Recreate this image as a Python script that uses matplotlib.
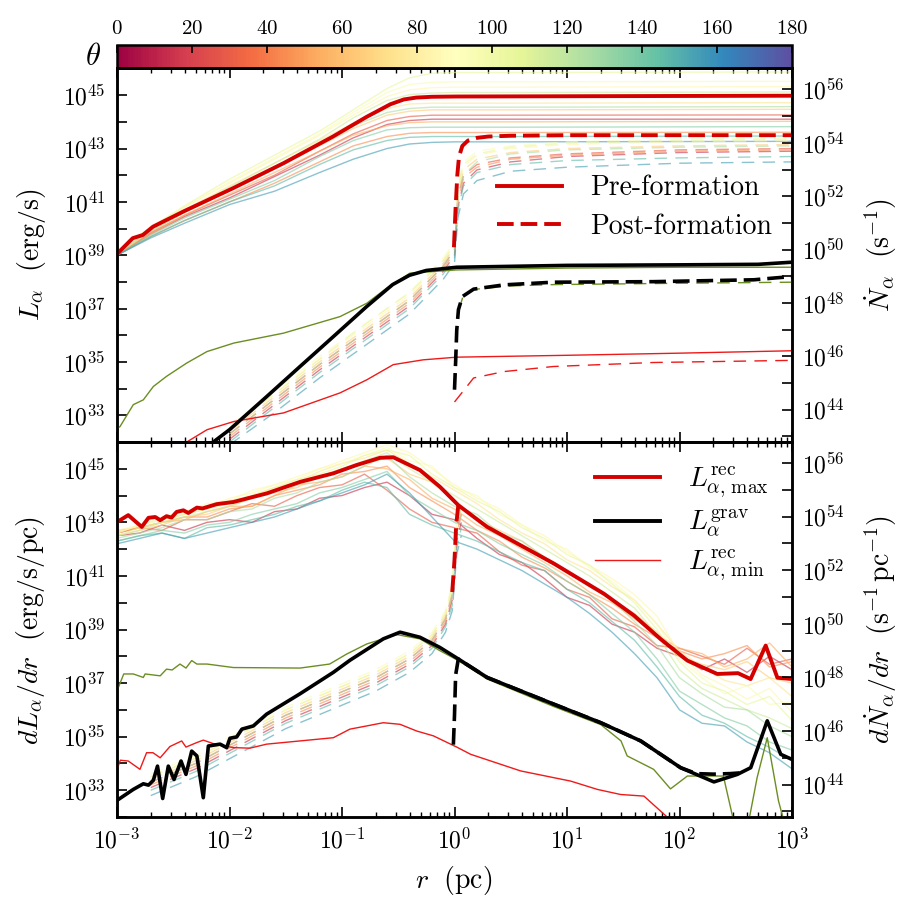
import numpy as np
import matplotlib
matplotlib.use('Agg')
import matplotlib.pyplot as plt
from matplotlib.ticker import FixedLocator, NullFormatter, FuncFormatter
from matplotlib.colors import Normalize
from matplotlib.cm import ScalarMappable
from matplotlib.lines import Line2D

plt.rcParams['font.family'] = ['cmr10', 'DejaVu Serif']
plt.rcParams['mathtext.fontset'] = 'cm'
plt.rcParams['axes.formatter.use_mathtext'] = True
plt.rcParams['axes.unicode_minus'] = False
plt.rcParams['lines.scale_dashes'] = False

E_LYA = 1.634e-11  # erg per Ly-alpha photon (right-hand axes)

# ---------------- data (log10 r [pc], log10 L) ----------------
theta = [15, 30, 45, 55, 65, 75, 85, 95, 105, 115, 125, 135, 145, 155]
theta_post = [15, 30, 45, 65, 85, 95, 105, 125, 145, 155]

# top panel: cumulative luminosity, per angle (pre-formation)
lr_top_ang = [-3.0, -2.7, -2.4, -2.0, -1.6, -1.2, -0.9, -0.6, -0.4, -0.2, 0.0, 0.5, 3.0]
lL_top_ang = [
    [39.0, 39.8, 40.45, 41.15, 41.95, 42.75, 43.4, 43.9, 44.05, 44.1, 44.1, 44.1, 44.1],
    [39.0, 39.85, 40.5, 41.25, 42.0, 42.9, 43.55, 44.05, 44.2, 44.25, 44.25, 44.25, 44.26],
    [39.0, 39.7, 40.3, 41.0, 41.7, 42.5, 43.1, 43.45, 43.57, 43.6, 43.6, 43.6, 43.61],
    [39.05, 39.8, 40.5, 41.3, 42.1, 42.9, 43.5, 43.85, 43.97, 44.0, 44.0, 44.0, 44.02],
    [39.05, 39.9, 40.6, 41.45, 42.25, 43.1, 43.75, 44.25, 44.4, 44.45, 44.45, 44.45, 44.47],
    [39.1, 40.0, 40.7, 41.6, 42.45, 43.3, 43.95, 44.5, 44.67, 44.7, 44.7, 44.7, 44.72],
    [39.1, 40.0, 40.8, 41.7, 42.6, 43.5, 44.25, 44.95, 45.2, 45.28, 45.3, 45.3, 45.32],
    [39.1, 40.05, 40.8, 41.75, 42.65, 43.55, 44.35, 45.1, 45.4, 45.48, 45.5, 45.5, 45.52],
    [39.15, 40.05, 40.85, 41.85, 42.75, 43.65, 44.45, 45.25, 45.65, 45.82, 45.85, 45.85, 45.87],
    [39.1, 39.95, 40.65, 41.55, 42.45, 43.35, 44.15, 44.8, 45.02, 45.08, 45.1, 45.1, 45.12],
    [39.1, 39.9, 40.6, 41.45, 42.3, 43.15, 43.85, 44.35, 44.5, 44.55, 44.55, 44.55, 44.57],
    [39.0, 39.75, 40.4, 41.1, 41.8, 42.7, 43.3, 43.7, 43.78, 43.8, 43.8, 43.8, 43.82],
    [39.0, 39.7, 40.3, 41.0, 41.6, 42.4, 42.95, 43.3, 43.42, 43.45, 43.45, 43.45, 43.47],
    [39.0, 39.65, 40.2, 40.9, 41.4, 42.1, 42.6, 43.0, 43.17, 43.23, 43.25, 43.25, 43.27],
]
# top panel, per angle (post-formation)
lr_top_ang_post = [-2.0, -1.6, -1.2, -0.8, -0.4, -0.1, 0.0, 0.03, 0.08, 0.2, 0.5, 1.0, 2.0, 3.0]
lL_top_ang_post = [
    [32.1, 33.4, 34.7, 35.9, 37.1, 38.4, 39.0, 40.8, 41.7, 42.2, 42.5, 42.7, 42.85, 42.9],
    [32.3, 33.6, 34.9, 36.1, 37.3, 38.6, 39.2, 41.2, 42.0, 42.4, 42.65, 42.8, 42.95, 43.0],
    [32.2, 33.5, 34.8, 36.0, 37.2, 38.5, 39.1, 41.0, 41.9, 42.3, 42.6, 42.75, 42.9, 42.95],
    [32.4, 33.7, 35.0, 36.2, 37.4, 38.7, 39.3, 41.3, 42.2, 42.6, 42.85, 43.0, 43.1, 43.15],
    [32.5, 33.8, 35.1, 36.3, 37.5, 38.8, 39.4, 41.5, 42.3, 42.75, 43.0, 43.15, 43.25, 43.3],
    [32.6, 33.9, 35.2, 36.4, 37.6, 38.9, 39.5, 41.6, 42.5, 42.9, 43.1, 43.25, 43.35, 43.4],
    [32.5, 33.8, 35.1, 36.4, 37.6, 38.8, 39.4, 41.5, 42.4, 42.8, 43.05, 43.2, 43.3, 43.35],
    [32.3, 33.6, 34.9, 36.1, 37.3, 38.6, 39.2, 41.1, 42.0, 42.5, 42.8, 42.95, 43.05, 43.1],
    [32.0, 33.3, 34.6, 35.8, 37.0, 38.3, 38.9, 40.7, 41.6, 42.1, 42.4, 42.55, 42.65, 42.7],
    [31.9, 33.1, 34.4, 35.6, 36.8, 38.1, 38.7, 40.4, 41.3, 41.8, 42.15, 42.3, 42.45, 42.5],
]

lr_recmax_pre = [-3.0, -2.86, -2.77, -2.68, -2.41, -1.97, -1.52, -1.08, -0.78, -0.57, -0.45, -0.34, -0.2, 0.02, 1.0, 2.0, 3.0]
lL_recmax_pre = [39.05, 39.64, 39.76, 40.07, 40.64, 41.51, 42.45, 43.45, 44.19, 44.66, 44.84, 44.91, 44.94, 44.95, 44.96, 44.97, 44.98]
lr_recmax_post = [-0.005, 0.01, 0.025, 0.04, 0.07, 0.12, 0.2, 0.3, 0.5, 1.0, 2.0, 3.0]
lL_recmax_post = [39.3, 40.8, 42.0, 42.7, 43.1, 43.3, 43.4, 43.45, 43.48, 43.5, 43.5, 43.5]

lr_grav_pre = [-2.2, -2.144, -2.0, -1.67, -1.373, -1.077, -0.78, -0.55, -0.4, -0.25, 0.02, 1.0, 2.0, 2.7, 3.0]
lL_grav_pre = [31.8, 32.0, 32.46, 33.7, 34.83, 35.95, 37.08, 37.9, 38.25, 38.43, 38.55, 38.62, 38.64, 38.66, 38.74]
lr_grav_post = [0.0, 0.01, 0.02, 0.035, 0.07, 0.17, 0.44, 0.88, 1.77, 2.66, 2.85, 3.0]
lL_grav_post = [33.96, 35.0, 36.2, 36.96, 37.45, 37.73, 37.89, 37.99, 38.01, 38.08, 38.15, 38.2]

lr_olive_pre = [-3.0, -2.973, -2.855, -2.766, -2.677, -2.56, -2.38, -2.2, -1.96, -1.52, -1.018, -0.78, -0.602, -0.396, 0.02, 1.0, 2.0, 3.0]
lL_olive_pre = [32.5, 32.58, 33.4, 33.58, 34.08, 34.46, 34.96, 35.39, 35.71, 36.08, 36.70, 37.2, 37.77, 38.33, 38.45, 38.52, 38.55, 38.55]
lr_olive_post = [0.04, 0.08, 0.17, 0.5, 0.88, 2.0, 3.0]
lL_olive_post = [36.96, 37.52, 37.72, 37.85, 37.9, 37.95, 37.99]

lr_recmin_pre = [-2.45, -2.38, -2.2, -1.96, -1.52, -1.018, -0.78, -0.544, -0.279, 0.02, 1.0, 2.0, 3.0]
lL_recmin_pre = [31.8, 32.0, 32.46, 32.77, 33.09, 33.84, 34.33, 34.9, 35.08, 35.18, 35.25, 35.33, 35.42]
lr_recmin_post = [0.0, 0.04, 0.17, 0.44, 0.88, 1.77, 3.0]
lL_recmin_post = [33.5, 33.71, 34.4, 34.64, 34.83, 34.98, 35.06]

# bottom panel: differential luminosity, per angle (pre-formation)
lr_bot_ang = [-3.0, -2.8, -2.6, -2.4, -2.2, -2.0, -1.8, -1.6, -1.4, -1.2, -1.0, -0.8, -0.6, -0.4, -0.2, 0.0,
              0.2, 0.4, 0.6, 0.8, 1.0, 1.2, 1.4, 1.6, 1.8, 2.0, 2.2, 2.4, 2.6, 2.8, 3.0]
lL_bot_ang = [
    [42.5, 42.6, 42.9, 42.7, 43.0, 43.1, 43.0, 43.4, 43.5, 43.9, 44.0, 44.3, 44.5, 44.0, 43.3, 43.1, 42.4, 41.8, 41.5, 40.9, 40.2, 39.9, 39.2, 38.9, 38.3, 38.0, 37.5, 37.9, 37.4, 38.0, 37.5],
    [42.6, 42.8, 42.7, 43.1, 43.1, 43.4, 43.7, 43.6, 44.0, 44.3, 44.4, 44.8, 44.2, 43.5, 43.0, 42.8, 42.6, 41.9, 41.4, 41.2, 40.5, 40.2, 39.4, 39.1, 38.4, 38.3, 38.0, 37.7, 38.3, 37.7, 37.9],
    [42.6, 42.8, 43.0, 43.2, 43.2, 43.5, 43.6, 44.0, 44.2, 44.4, 44.8, 44.9, 45.1, 44.3, 43.8, 43.3, 42.7, 42.3, 41.7, 41.3, 40.8, 40.3, 39.8, 39.2, 38.7, 38.2, 37.9, 38.1, 38.4, 37.6, 37.8],
    [42.7, 42.8, 43.0, 43.1, 43.4, 43.6, 43.6, 44.0, 44.4, 44.5, 44.7, 45.1, 45.0, 44.6, 43.9, 43.5, 42.9, 42.5, 42.0, 41.5, 41.0, 40.4, 40.0, 39.4, 38.8, 38.3, 38.1, 37.6, 37.9, 38.5, 37.6],
    [42.5, 42.7, 42.9, 43.2, 43.3, 43.6, 43.9, 44.1, 44.3, 44.7, 45.0, 45.2, 45.4, 44.8, 44.5, 43.8, 43.1, 42.7, 42.3, 41.7, 41.1, 40.7, 40.1, 39.6, 38.9, 38.0, 37.7, 37.5, 37.8, 37.2, 37.0],
    [42.6, 42.9, 43.1, 43.3, 43.5, 43.7, 44.0, 44.3, 44.5, 44.9, 45.2, 45.4, 45.7, 45.2, 44.7, 44.2, 43.7, 43.1, 42.6, 42.2, 41.6, 41.2, 40.6, 40.1, 39.2, 38.2, 37.6, 37.1, 36.9, 37.2, 36.5],
    [42.7, 42.9, 43.2, 43.4, 43.6, 43.9, 44.1, 44.4, 44.7, 45.0, 45.3, 45.6, 45.9, 45.6, 45.0, 44.4, 43.9, 43.5, 42.9, 42.5, 41.9, 41.4, 40.9, 40.3, 39.5, 38.1, 37.3, 36.9, 36.4, 36.8, 35.9],
    [42.6, 42.9, 43.1, 43.4, 43.7, 43.8, 44.2, 44.4, 44.6, 45.0, 45.2, 45.5, 45.8, 45.3, 45.1, 44.3, 44.0, 43.3, 42.9, 42.3, 42.0, 41.3, 40.8, 40.1, 39.2, 37.9, 37.2, 36.6, 36.9, 36.2, 36.3],
    [42.5, 42.8, 43.0, 43.3, 43.5, 43.8, 44.0, 44.3, 44.6, 44.8, 45.1, 45.5, 45.7, 45.5, 44.8, 44.3, 43.8, 43.4, 42.8, 42.4, 41.8, 41.4, 40.7, 40.0, 39.0, 37.8, 37.0, 36.7, 36.2, 36.5, 35.6],
    [42.5, 42.7, 43.0, 43.2, 43.4, 43.6, 43.9, 44.2, 44.4, 44.7, 45.0, 45.3, 45.6, 45.0, 44.5, 44.0, 43.5, 43.0, 42.5, 42.0, 41.5, 41.0, 40.4, 39.8, 38.8, 37.5, 36.8, 36.4, 36.0, 35.7, 35.3],
    [42.4, 42.6, 42.8, 43.1, 43.1, 43.4, 43.5, 43.9, 44.1, 44.5, 44.7, 45.1, 45.5, 44.7, 44.1, 43.6, 43.3, 42.6, 42.3, 41.7, 41.2, 40.6, 40.1, 39.3, 38.4, 37.2, 36.6, 36.1, 36.0, 35.4, 35.0],
    [42.3, 42.5, 42.7, 42.6, 42.9, 43.0, 43.3, 43.5, 43.7, 44.1, 44.3, 44.6, 44.9, 44.0, 43.5, 43.0, 42.7, 42.2, 41.8, 41.4, 40.8, 40.3, 39.6, 38.9, 37.9, 36.7, 36.2, 35.7, 35.4, 34.8, 34.5],
    [42.3, 42.5, 42.6, 42.4, 42.8, 42.9, 43.1, 43.3, 43.6, 43.8, 44.2, 44.5, 44.3, 43.3, 42.9, 42.6, 42.3, 41.9, 41.5, 41.2, 40.5, 40.0, 39.3, 38.6, 37.6, 36.5, 35.8, 35.5, 35.0, 34.6, 34.1],
    [42.2, 42.4, 42.6, 42.4, 42.6, 42.8, 43.0, 43.2, 43.5, 43.8, 44.1, 44.4, 44.8, 44.1, 43.2, 42.3, 42.0, 41.6, 41.2, 40.7, 40.2, 39.6, 38.9, 38.1, 37.2, 36.0, 35.5, 35.4, 34.8, 34.4, 33.8],
]
# bottom panel, per angle (post-formation)
lr_bot_ang_post = [-2.7, -2.3, -1.9, -1.5, -1.1, -0.7, -0.4, -0.2, -0.08, -0.02, 0.02, 0.06]
lL_bot_ang_post = [
    [33.1, 33.8, 34.7, 35.6, 36.3, 37.0, 37.7, 38.4, 39.2, 40.1, 42.3, 43.0],
    [33.3, 34.0, 34.9, 35.8, 36.5, 37.2, 37.9, 38.6, 39.4, 40.3, 42.6, 43.3],
    [33.2, 33.9, 34.8, 35.7, 36.4, 37.1, 37.8, 38.5, 39.3, 40.2, 42.5, 43.4],
    [33.4, 34.1, 35.0, 35.9, 36.6, 37.3, 38.0, 38.7, 39.5, 40.4, 42.8, 43.6],
    [33.5, 34.2, 35.1, 36.0, 36.7, 37.4, 38.1, 38.8, 39.6, 40.6, 43.0, 43.8],
    [33.6, 34.3, 35.2, 36.1, 36.8, 37.5, 38.2, 38.9, 39.7, 40.7, 43.1, 43.9],
    [33.5, 34.2, 35.1, 36.0, 36.7, 37.4, 38.1, 38.8, 39.6, 40.6, 43.0, 43.8],
    [33.3, 34.0, 34.9, 35.8, 36.5, 37.2, 37.9, 38.6, 39.4, 40.3, 42.6, 43.3],
    [33.0, 33.7, 34.6, 35.5, 36.2, 36.9, 37.6, 38.3, 39.1, 39.9, 42.0, 42.8],
    [32.8, 33.5, 34.4, 35.3, 36.0, 36.7, 37.4, 38.1, 38.9, 39.7, 41.8, 42.5],
]

lr_d_recmax_pre = [-3.0, -2.9, -2.78, -2.72, -2.66, -2.616, -2.56, -2.515, -2.47, -2.41, -2.366, -2.29, -2.24, -2.114, -1.966, -1.67, -1.373, -1.077, -0.87, -0.662, -0.544, -0.307, -0.13, 0.034, 0.29, 0.884, 1.33, 1.596, 1.83, 2.07, 2.336, 2.52, 2.632, 2.766, 2.87, 3.0]
lL_d_recmax_pre = [43.01, 43.27, 42.83, 43.17, 43.2, 43.08, 43.23, 43.18, 43.39, 43.45, 43.35, 43.55, 43.52, 43.68, 43.76, 44.08, 44.51, 44.83, 45.14, 45.41, 45.43, 44.95, 44.33, 43.64, 42.83, 41.46, 40.33, 39.52, 38.65, 37.84, 37.34, 37.37, 37.15, 38.4, 37.2, 37.15]
lr_d_recmax_post = [-0.02, 0.0, 0.015, 0.034]
lL_d_recmax_post = [40.4, 41.6, 42.9, 43.64]

lr_d_grav_pre = [-3.0, -2.855, -2.766, -2.72, -2.677, -2.64, -2.594, -2.544, -2.493, -2.431, -2.387, -2.336, -2.29, -2.233, -2.188, -2.084, -2.025, -1.996, -1.936, -1.89, -1.788, -1.67, -1.373, -1.225, -1.077, -0.93, -0.633, -0.484, -0.307, -0.13, 0.034, 0.29, 0.884, 1.3, 1.655, 2.01, 2.306, 2.514, 2.633, 2.78, 2.9, 3.0]
lL_d_grav_pre = [32.62, 33.03, 33.24, 33.19, 33.37, 33.9, 32.69, 33.9, 33.4, 34.09, 33.59, 34.46, 34.28, 32.72, 34.65, 34.72, 34.59, 34.94, 34.99, 35.28, 35.4, 35.84, 36.6, 37.0, 37.4, 37.85, 38.65, 38.9, 38.71, 38.33, 37.9, 37.21, 36.21, 35.52, 34.84, 33.84, 33.31, 33.59, 33.84, 35.59, 34.34, 34.15]
lr_d_grav_post = [-0.01, 0.0, 0.01, 0.034, 0.29, 0.884, 1.3, 1.655, 2.01, 2.15, 2.3, 2.45, 2.55]
lL_d_grav_post = [34.7, 35.8, 37.3, 37.9, 37.21, 36.21, 35.52, 34.84, 33.84, 33.62, 33.6, 33.62, 33.65]

lr_d_olive = [-3.0, -2.94, -2.855, -2.766, -2.75, -2.616, -2.56, -2.51, -2.44, -2.387, -2.336, -2.29, -2.2, -1.966, -1.373, -1.11, -0.96, -0.78, -0.513, -0.307, -0.13, 0.034, 0.29, 0.884, 1.3, 1.48, 1.535, 1.77, 1.92, 2.07, 2.3, 2.39, 2.5, 2.6, 2.69, 2.78, 2.88, 2.95]
lL_d_olive = [36.71, 37.34, 37.34, 37.21, 37.34, 37.27, 37.52, 37.49, 37.71, 37.56, 37.84, 37.71, 37.71, 37.58, 37.56, 37.71, 38.08, 38.46, 38.81, 38.65, 38.21, 37.84, 37.15, 36.12, 35.45, 34.84, 34.28, 33.78, 33.05, 33.53, 33.53, 33.53, 31.5, 31.5, 33.47, 34.96, 32.6, 31.5]

lr_d_recmin = [-3.0, -2.97, -2.9, -2.796, -2.737, -2.68, -2.616, -2.53, -2.425, -2.387, -2.29, -2.233, -2.144, -1.966, -1.818, -1.67, -1.373, -1.077, -0.93, -0.78, -0.633, -0.484, -0.336, -0.188, 0.02, 0.144, 0.588, 1.033, 1.27, 1.477, 1.684, 1.89, 1.95]
lL_d_recmin = [33.78, 34.12, 34.09, 33.78, 34.4, 34.4, 34.21, 34.63, 34.84, 34.61, 34.78, 34.87, 34.74, 34.59, 34.57, 34.72, 34.84, 34.96, 35.28, 35.4, 35.52, 35.46, 35.21, 35.03, 34.61, 34.34, 33.72, 33.34, 33.03, 32.84, 32.78, 32.0, 31.7]

theta_ticks = [0, 20, 40, 60, 80, 100, 120, 140, 160, 180]

# ---------------- styling ----------------
RED = '#d40000'
RED_THIN = '#ee1a1a'
OLIVE = '#6b8e23'
cmap = plt.get_cmap('Spectral')
norm = Normalize(0, 180)
THIN_DASH = (9, 6)
THICK_DASH = (12, 5)
ANG_ALPHA = 0.62

W, H = 914, 913
fig = plt.figure(figsize=(W / 100, H / 100), dpi=100)
fig.patch.set_facecolor('white')


def fx(px):
    return px / W


def fy(py):
    return 1 - py / H


L, R = 117, 792
ax1 = fig.add_axes([fx(L), fy(442), fx(R - L), (442 - 68.5) / H])
ax2 = fig.add_axes([fx(L), fy(817), fx(R - L), (817 - 442) / H])
cax = fig.add_axes([fx(L), fy(68.5), fx(R - L), (68.5 - 45) / H])

pow_fmt = FuncFormatter(lambda v, p: r'$10^{%d}$' % int(round(np.log10(v))))


def style(ax, show_x):
    ax.set_xscale('log')
    ax.set_yscale('log')
    ax.set_xlim(1e-3, 1e3)
    ax.set_ylim(1e32, 1e46)
    ax.xaxis.set_major_locator(FixedLocator(10.0 ** np.arange(-3, 4)))
    ax.xaxis.set_minor_locator(FixedLocator([m * 10.0 ** e for e in range(-3, 3) for m in range(2, 10)]))
    ax.xaxis.set_major_formatter(pow_fmt)
    ax.xaxis.set_minor_formatter(NullFormatter())
    ax.yaxis.set_major_locator(FixedLocator(10.0 ** np.arange(33, 46, 2)))
    ax.yaxis.set_minor_locator(FixedLocator(10.0 ** np.arange(32, 47, 2)))
    ax.yaxis.set_major_formatter(pow_fmt)
    ax.yaxis.set_minor_formatter(NullFormatter())
    axr = ax.twinx()
    axr.set_yscale('log')
    axr.set_ylim(1e32 / E_LYA, 1e46 / E_LYA)
    axr.yaxis.set_major_locator(FixedLocator(10.0 ** np.arange(44, 57, 2)))
    axr.yaxis.set_minor_locator(FixedLocator(10.0 ** np.arange(43, 58, 2)))
    axr.yaxis.set_major_formatter(pow_fmt)
    axr.yaxis.set_minor_formatter(NullFormatter())
    ax.tick_params(which='both', direction='in', top=True, bottom=True, left=True, right=False, labelsize=17, pad=8)
    ax.tick_params(which='major', length=7, width=1.2)
    ax.tick_params(axis='x', which='minor', length=3.5, width=1.0)
    ax.tick_params(axis='y', which='minor', length=7, width=1.2)
    axr.tick_params(which='both', direction='in', labelsize=17, pad=7)
    axr.tick_params(which='both', length=7, width=1.2)
    ax.tick_params(axis='x', labelbottom=show_x)
    for s in list(ax.spines.values()) + list(axr.spines.values()):
        s.set_linewidth(1.8)
    return axr


def P(ax, lr, lL, **kw):
    ax.plot(10.0 ** np.asarray(lr), 10.0 ** np.asarray(lL), **kw)


# ---- top panel ----
for th, yv in zip(theta, lL_top_ang):
    P(ax1, lr_top_ang, yv, color=cmap(norm(th)), lw=1.0, alpha=ANG_ALPHA, zorder=2)
for th, yv in zip(theta_post, lL_top_ang_post):
    P(ax1, lr_top_ang_post, yv, color=cmap(norm(th)), lw=1.0, alpha=ANG_ALPHA, zorder=2, dashes=THIN_DASH)
P(ax1, lr_olive_pre, lL_olive_pre, color=OLIVE, lw=1.0, zorder=3)
P(ax1, lr_olive_post, lL_olive_post, color=OLIVE, lw=1.0, zorder=3, dashes=THIN_DASH)
P(ax1, lr_recmin_pre, lL_recmin_pre, color=RED_THIN, lw=1.0, zorder=3)
P(ax1, lr_recmin_post, lL_recmin_post, color=RED_THIN, lw=1.0, zorder=3, dashes=THIN_DASH)
P(ax1, lr_grav_pre, lL_grav_pre, color='k', lw=2.6, zorder=4)
P(ax1, lr_grav_post, lL_grav_post, color='k', lw=2.6, zorder=4, dashes=THICK_DASH)
P(ax1, lr_recmax_pre, lL_recmax_pre, color=RED, lw=2.8, zorder=5)
P(ax1, lr_recmax_post, lL_recmax_post, color=RED, lw=2.8, zorder=5, dashes=THICK_DASH)

# ---- bottom panel ----
for th, yv in zip(theta, lL_bot_ang):
    P(ax2, lr_bot_ang, yv, color=cmap(norm(th)), lw=1.0, alpha=ANG_ALPHA, zorder=2)
for th, yv in zip(theta_post, lL_bot_ang_post):
    P(ax2, lr_bot_ang_post, yv, color=cmap(norm(th)), lw=1.0, alpha=ANG_ALPHA, zorder=2, dashes=THIN_DASH)
P(ax2, lr_d_olive, lL_d_olive, color=OLIVE, lw=1.0, zorder=3)
P(ax2, lr_d_recmin, lL_d_recmin, color=RED_THIN, lw=1.0, zorder=3)
P(ax2, lr_d_grav_pre, lL_d_grav_pre, color='k', lw=2.6, zorder=4)
P(ax2, lr_d_grav_post, lL_d_grav_post, color='k', lw=2.6, zorder=4, dashes=THICK_DASH)
P(ax2, lr_d_recmax_pre, lL_d_recmax_pre, color=RED, lw=2.8, zorder=5)
P(ax2, lr_d_recmax_post, lL_d_recmax_post, color=RED, lw=2.8, zorder=5, dashes=THICK_DASH)

ax1r = style(ax1, False)
ax2r = style(ax2, True)

# legends
h1 = [Line2D([], [], color=RED, lw=2.8), Line2D([], [], color=RED, lw=2.8, dashes=THICK_DASH)]
leg1 = ax1.legend(h1, ['Pre-formation', 'Post-formation'], loc='upper left',
                  bbox_to_anchor=(0.563, 0.715), frameon=False, fontsize=20,
                  handlelength=2.35, handletextpad=1.0, labelspacing=0.45, borderpad=0, borderaxespad=0)
leg1.set_zorder(10)
h2 = [Line2D([], [], color=RED, lw=2.8), Line2D([], [], color='k', lw=2.8), Line2D([], [], color=RED_THIN, lw=1.0)]
leg2 = ax2.legend(h2, [r'$L^{\rm rec}_{\alpha,\,{\rm max}}$', r'$L^{\rm grav}_{\alpha}$', r'$L^{\rm rec}_{\alpha,\,{\rm min}}$'],
                  loc='upper left', bbox_to_anchor=(0.708, 0.94), frameon=False, fontsize=20,
                  handlelength=2.35, handletextpad=1.0, labelspacing=0.3, borderpad=0, borderaxespad=0)
leg2.set_zorder(10)

# axis labels
fig.text(fx(31), fy(255), r'$L_\alpha\ \ (\mathrm{erg/s})$', rotation=90, ha='center', va='center', fontsize=20)
fig.text(fx(881), fy(255), r'$\dot{N}_\alpha\ \ (\mathrm{s}^{-1})$', rotation=90, ha='center', va='center', fontsize=20)
fig.text(fx(31), fy(630), r'$dL_\alpha/dr\ \ (\mathrm{erg/s/pc})$', rotation=90, ha='center', va='center', fontsize=20)
fig.text(fx(881), fy(630), r'$d\dot{N}_\alpha/dr\ \ (\mathrm{s}^{-1}\,\mathrm{pc}^{-1})$', rotation=90, ha='center', va='center', fontsize=20)
fig.text(fx(454), fy(880), r'$r\ \ (\mathrm{pc})$', ha='center', va='center', fontsize=20)

# colorbar
sm = ScalarMappable(norm=norm, cmap=cmap)
cb = fig.colorbar(sm, cax=cax, orientation='horizontal')
cb.set_ticks(theta_ticks)
cax.xaxis.set_ticks_position('top')
cax.xaxis.set_label_position('top')
cax.tick_params(axis='x', direction='in', length=6, width=1.2, labelsize=15, pad=5)
cb.outline.set_linewidth(1.8)
cax.minorticks_off()
fig.text(fx(93), fy(57), r'$\theta$', ha='center', va='center', fontsize=22)

fig.savefig('out.png', dpi=100)
